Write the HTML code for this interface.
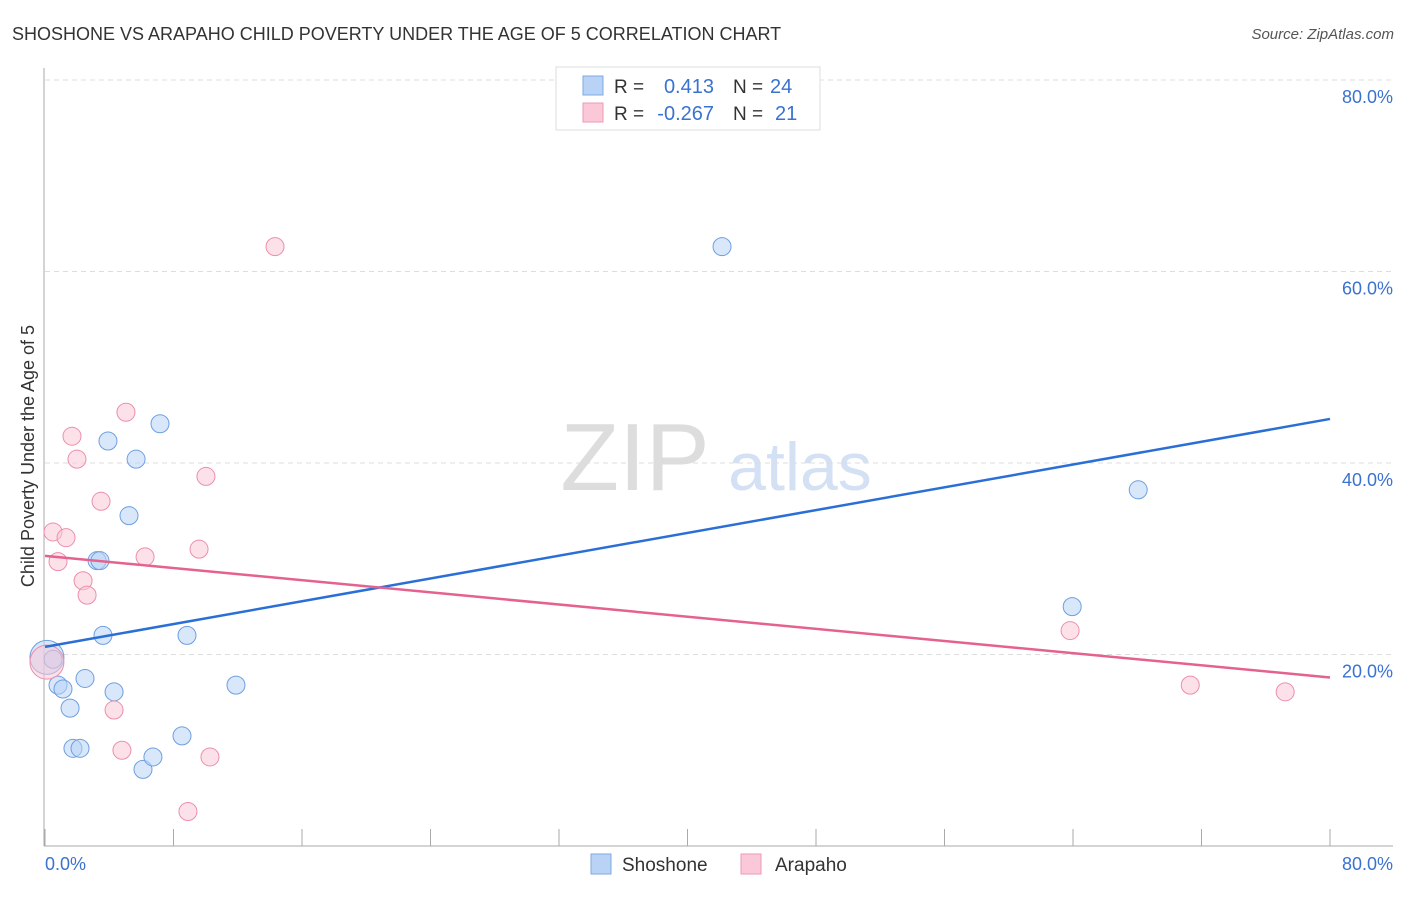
<!DOCTYPE html>
<html><head><meta charset="utf-8"><style>
body{margin:0;background:#fff;font-family:"Liberation Sans",sans-serif;}
svg text{font-family:"Liberation Sans",sans-serif;}
</style></head><body>
<svg id="chart" width="1406" height="892" xmlns="http://www.w3.org/2000/svg">
<text x="12" y="40" font-size="18" fill="#333">SHOSHONE VS ARAPAHO CHILD POVERTY UNDER THE AGE OF 5 CORRELATION CHART</text>
<text x="1394" y="39" font-size="15" fill="#555" font-style="italic" text-anchor="end">Source: ZipAtlas.com</text>
<text x="635" y="490" font-size="96" fill="#ddd" font-family="Liberation Serif" text-anchor="middle">ZIP</text>
<text x="800" y="490" font-size="68" fill="#d4e1f4" text-anchor="middle">atlas</text>
<g id="grid"></g>
<g id="axes"></g>
<g id="marks"></g>
<text transform="translate(34,456) rotate(-90)" font-size="18" fill="#333" text-anchor="middle">Child Poverty Under the Age of 5</text>
<g>
<rect x="556" y="67" width="264" height="63" fill="#fff" stroke="#ddd"/>
<rect x="583" y="76" width="20" height="19" fill="#b8d3f5" stroke="#7fa8e0"/>
<rect x="583" y="103" width="20" height="19" fill="#fac8d7" stroke="#ee9ab4"/>
<text x="614" y="93" font-size="19" fill="#333">R =</text>
<text x="714" y="93" font-size="20" fill="#3a72d0" text-anchor="end">0.413</text>
<text x="733" y="93" font-size="19" fill="#333">N =</text>
<text x="770" y="93" font-size="20" fill="#3a72d0">24</text>
<text x="614" y="120" font-size="19" fill="#333">R =</text>
<text x="714" y="120" font-size="20" fill="#3a72d0" text-anchor="end">-0.267</text>
<text x="733" y="120" font-size="19" fill="#333">N =</text>
<text x="775" y="120" font-size="20" fill="#3a72d0">21</text>
</g>
<g>
<rect x="591" y="854" width="20" height="20" fill="#b8d3f5" stroke="#7fa8e0"/>
<text x="622" y="871" font-size="19" fill="#333">Shoshone</text>
<rect x="741" y="854" width="20" height="20" fill="#fac8d7" stroke="#ee9ab4"/>
<text x="775" y="871" font-size="19" fill="#333">Arapaho</text>
</g>
</svg>
<script>
const shoshoneX=[0.12,0.5,0.81,1.12,1.56,1.74,2.18,2.49,3.24,3.42,3.61,3.92,4.30,5.23,5.67,6.10,6.72,7.16,8.53,8.84,11.89,42.15,63.95,68.06];
const shoshoneY=[19.7,19.5,16.8,16.4,14.4,10.2,10.2,17.5,29.8,29.8,22.0,42.3,16.1,34.5,40.4,8.0,9.3,44.1,11.5,22.0,16.8,62.6,25.0,37.2];
const arapahoX=[0.12,0.5,0.81,1.31,1.68,1.99,2.37,2.62,3.49,4.30,4.79,5.04,6.23,8.90,9.59,10.02,10.27,14.32,63.82,71.30,77.21];
const arapahoY=[19.2,32.8,29.7,32.2,42.8,40.4,27.7,26.2,36.0,14.2,10.0,45.3,30.2,3.6,31.0,38.6,9.3,62.6,22.5,16.8,16.1];
const shoshoneTrend=[20.8,44.6];
const arapahoTrend=[30.3,17.6];
const yTicks=[20,40,60,80];
const yTickLabels=["20.0%","40.0%","60.0%","80.0%"];
const xTicks=[0,8,16,24,32,40,48,56,64,72,80];
const NS="http://www.w3.org/2000/svg";
const sx=v=>45+v*(1285/80), sy=v=>846-v*(766/80);
function mk(parent,tag,attrs){const e=document.createElementNS(NS,tag);for(const k in attrs)e.setAttribute(k,attrs[k]);document.getElementById(parent).appendChild(e);return e;}
yTicks.forEach((t,i)=>{
 const g=mk('grid','line',{x1:45,x2:1393,y1:sy(t),y2:sy(t),stroke:'#ddd','stroke-dasharray':'5,4'});
 
 
 const l=mk('axes','text',{x:1393,y:sy(t)+23,'font-size':18,fill:'#3a72d0','text-anchor':'end'});
 l.textContent=yTickLabels[i];
 
 
});
mk('axes','line',{x1:44,x2:44,y1:68,y2:846,stroke:'#aaa'});
mk('axes','line',{x1:44,x2:1393,y1:846,y2:846,stroke:'#aaa'});
xTicks.forEach(t=>{
 const e=mk('axes','line',{x1:sx(t),x2:sx(t),y1:829,y2:846,stroke:'#aaa'});
 
 
});
let a=mk('axes','text',{x:45,y:870,'font-size':18,fill:'#3a72d0'});a.textContent='0.0%';


let b=mk('axes','text',{x:1393,y:870,'font-size':18,fill:'#3a72d0','text-anchor':'end'});b.textContent='80.0%';


function pts(X,Y,fill,stroke,name){X.forEach((x,i)=>{
 const c=mk('marks','circle',{cx:sx(x),cy:sy(Y[i]),r:i===0?17:9,fill:fill,'fill-opacity':0.55,stroke:stroke,'stroke-width':1});
 
 
});}
pts(shoshoneX,shoshoneY,'#b8d3f5','#6f9fe0','shoshone-point');
pts(arapahoX,arapahoY,'#fac8d7','#ec8fac','arapaho-point');
const t1=mk('marks','line',{x1:sx(0),y1:sy(shoshoneTrend[0]),x2:sx(80),y2:sy(shoshoneTrend[1]),stroke:'#2a6fd6','stroke-width':2.5});


const t2=mk('marks','line',{x1:sx(0),y1:sy(arapahoTrend[0]),x2:sx(80),y2:sy(arapahoTrend[1]),stroke:'#e5628e','stroke-width':2.5});


</script>
</body></html>
